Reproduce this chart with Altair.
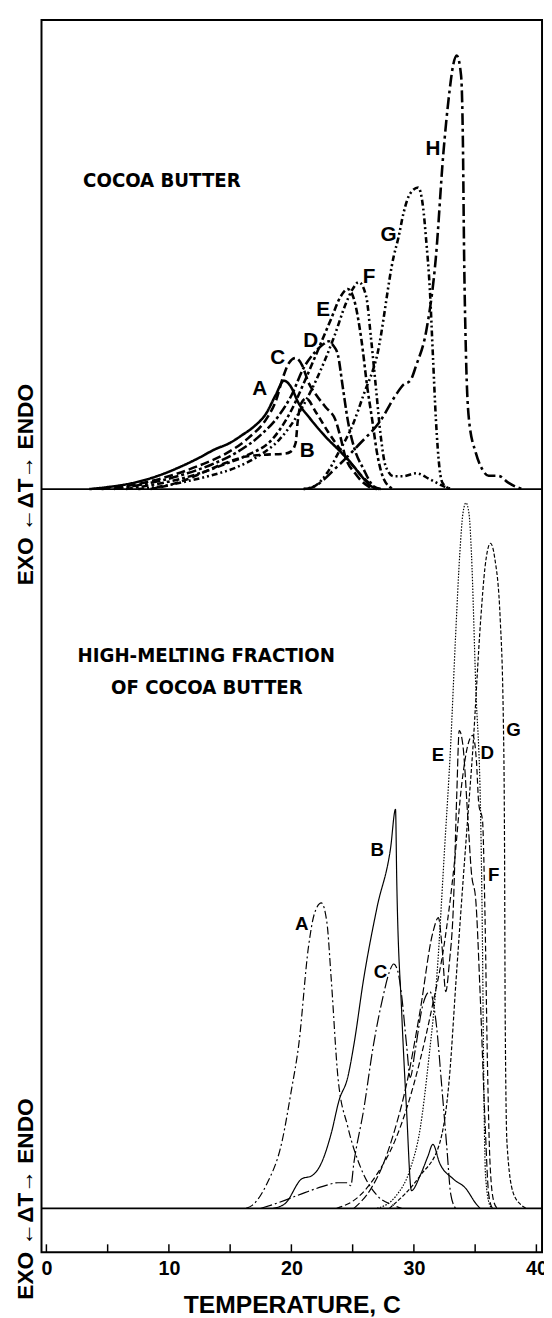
import altair as alt
import pandas as pd

# ---------------- axis extents (temperature, C ; signal height, arbitrary units) ----
T_MIN, T_MAX = -0.4, 40.46
Y_MIN, Y_MAX = -44.5, 1206.0
TOP_BASE = 730.0          # where the upper panel's baseline sits on the shared scale

tick_values = [0, 5, 10, 15, 20, 25, 30, 35, 40]
label_values = [0, 10, 20, 30, 40]

# ---------------- upper panel: cocoa butter -----------------------------------------
top_A_T = [3.5, 5.0, 7.0, 9.0, 11.0, 12.5, 13.7, 15.0, 16.0, 16.9, 17.95, 18.7, 19.4, 19.9, 20.6, 21.5, 22.8, 24.0, 24.9, 25.8, 26.5, 27.2]
top_A_h = [0, 2, 6, 13, 23, 32, 40, 47, 55, 63, 77, 95, 110, 105, 87, 72, 53, 38, 26, 12, 3, 0]

top_B_T = [8.5, 10.0, 11.5, 13.0, 14.5, 16.3, 18.0, 19.5, 19.95, 20.35, 20.5, 20.8, 21.2, 22.0, 23.0, 24.0, 25.0, 26.0, 26.9]
top_B_h = [0, 4, 10, 18, 26, 33, 35, 36, 38, 47, 67, 87, 92, 78, 58, 40, 24, 10, 0]

top_C_T = [4.5, 6.5, 8.5, 10.5, 12.5, 14.5, 16.5, 18.0, 18.75, 19.3, 19.8, 20.35, 20.9, 21.4, 22.0, 22.8, 23.6, 24.0, 24.4, 25.2, 26.25, 27.0]
top_C_h = [0, 3, 8, 15, 24, 35, 52, 72, 90, 113, 128, 133, 125, 108, 96, 83, 70, 53, 33, 16, 3, 0]

top_D_T = [5.5, 7.5, 9.5, 11.5, 13.5, 15.5, 17.5, 19.0, 20.0, 21.0, 22.0, 22.6, 23.05, 23.4, 23.8, 24.2, 24.6, 25.1, 25.9, 26.7, 27.3]
top_D_h = [0, 4, 9, 16, 25, 37, 55, 75, 95, 123, 140, 147, 150, 146, 136, 103, 70, 43, 20, 3, 0]

top_E_T = [6.5, 8.5, 10.5, 12.5, 14.5, 16.5, 18.4, 20.0, 21.1, 22.2, 23.25, 24.0, 24.6, 25.1, 25.7, 26.2, 26.6, 27.0, 27.55, 28.3]
top_E_h = [0, 4, 9, 16, 25, 35, 50, 80, 110, 142, 173, 195, 203, 193, 153, 103, 70, 36, 10, 0]

top_F_T = [7.5, 9.5, 11.5, 13.5, 15.5, 17.5, 19.0, 20.5, 22.0, 23.5, 24.5, 25.0, 25.5, 26.1, 26.5, 26.9, 27.3, 27.7, 28.35, 29.1, 30.2, 31.3, 32.4, 33.1]
top_F_h = [0, 3, 8, 14, 22, 35, 50, 75, 110, 155, 190, 203, 210, 196, 153, 103, 53, 23, 13, 13, 16, 10, 3, 0]

top_G_T = [21.0, 21.9, 23.0, 23.8, 25.0, 25.9, 27.0, 28.35, 28.75, 29.15, 29.7, 30.35, 30.75, 31.0, 31.3, 31.55, 31.8, 32.1, 32.35, 33.0]
top_G_h = [0, 3, 18, 36, 65, 96, 136, 236, 256, 280, 300, 306, 286, 253, 203, 136, 70, 20, 6, 0]

top_H_T = [21.0, 21.65, 23.8, 25.5, 27.3, 28.5, 29.15, 29.7, 30.2, 31.0, 31.8, 32.4, 32.9, 33.2, 33.5, 33.85, 34.0, 34.1, 34.25, 34.5, 35.05, 35.5, 36.1, 36.9, 37.7, 38.5, 38.9]
top_H_h = [0, 1.5, 23.5, 45, 70, 95, 106, 110, 126, 160, 236, 340, 403, 430, 440, 420, 353, 237, 137, 70, 37, 22, 13.5, 13.5, 6.5, 1.5, 0]

# ---------------- lower panel: high-melting fraction --------------------------------
bot_A_T = [16.3, 16.8, 18.0, 19.2, 20.0, 20.6, 21.4, 21.9, 22.45, 22.9, 23.25, 23.8, 24.6, 25.7, 27.0, 28.35, 29.0]
bot_A_h = [0, 3, 25, 66, 120, 166, 266, 300, 310, 290, 233, 133, 83, 40, 13, 3, 0]

bot_B_T = [18.5, 19.5, 20.85, 21.65, 22.45, 23.25, 23.9, 24.6, 25.1, 25.9, 27.0, 28.1, 28.5, 28.6, 29.0, 29.4, 29.8, 30.5, 31.15, 31.55, 32.1, 33.2, 34.25, 35.05, 35.4]
bot_B_h = [0, 5, 30, 33, 46, 76, 110, 133, 166, 233, 306, 366, 405, 333, 200, 100, 18, 33, 53, 65, 46, 30, 20, 5, 0]

bot_C_T = [17.5, 19.0, 21.1, 22.5, 23.8, 24.5, 24.85, 25.1, 25.9, 26.7, 27.5, 28.0, 28.35, 28.7, 29.0, 29.4, 29.7, 30.1, 30.7, 31.3, 31.8, 32.3, 32.7, 33.0, 33.4]
bot_C_h = [0, 6, 16, 22, 26, 26, 23, 46, 100, 166, 216, 240, 248, 240, 216, 166, 133, 160, 205, 220, 190, 120, 60, 15, 0]

bot_D_T = [23.7, 25.5, 27.0, 28.5, 29.5, 30.5, 31.5, 32.5, 33.3, 33.9, 34.4, 34.8, 35.1, 35.3, 35.6, 35.8, 36.0, 36.2, 36.5, 36.8]
bot_D_h = [0, 12, 35, 70, 105, 150, 205, 270, 350, 430, 470, 480, 455, 410, 394, 300, 150, 50, 8, 0]

bot_E_T = [25.1, 26.5, 27.5, 28.35, 29.4, 30.5, 31.55, 32.0, 32.3, 32.6, 32.9, 33.2, 33.5, 33.7, 34.0, 34.4, 34.7, 35.05, 35.4, 35.8, 36.1, 36.4]
bot_E_h = [0, 20, 45, 76, 126, 200, 280, 295, 265, 220, 250, 300, 420, 485, 470, 397, 340, 313, 220, 90, 15, 0]

bot_F_T = [27.0, 28.5, 29.7, 30.5, 31.2, 31.9, 32.5, 33.0, 33.4, 33.75, 34.0, 34.25, 34.5, 34.7, 35.05, 35.45, 35.6, 35.7, 35.85, 36.2, 36.4]
bot_F_h = [0, 12, 40, 80, 150, 240, 364, 470, 580, 665, 705, 716, 705, 664, 530, 397, 266, 133, 33, 3, 0]

bot_G_T = [28.0, 30.5, 32.1, 32.9, 33.45, 34.0, 34.4, 34.8, 35.45, 35.8, 36.25, 36.6, 37.05, 37.3, 37.4, 37.45, 37.6, 38.1, 38.8, 39.2]
bot_G_h = [0, 33, 66, 133, 233, 330, 397, 464, 597, 650, 675, 660, 597, 497, 366, 200, 66, 16, 3, 0]

# ---------------- curve letters ------------------------------------------------------
top_label_names = ["H", "G", "F", "E", "D", "C", "A", "B"]
top_label_T = [31.56, 27.94, 26.33, 22.59, 21.57, 18.89, 17.41, 21.30]
top_label_h = [344.8, 258.2, 214.8, 181.5, 149.8, 133.2, 101.5, 38.2]

bot_label_names = ["E", "D", "G", "B", "F", "A", "C"]
bot_label_T = [31.96, 35.98, 38.13, 27.01, 36.52, 20.84, 27.28]
bot_label_h = [460.5, 462.2, 485.5, 363.8, 338.2, 288.2, 239.8]

# ---------------- line styles --------------------------------------------------------
top_dashes = {"A": [1, 0], "B": [7, 4], "C": [9, 4], "D": [10, 3, 3, 3], "E": [7, 3, 3, 3],
              "F": [6, 3, 2, 3, 2, 3], "G": [2, 3, 2, 3, 6, 3], "H": [12, 4, 3, 4]}
bot_dashes = {"A": [8, 3, 2, 3], "B": [1, 0], "C": [12, 3, 2, 3], "D": [6, 3], "E": [8, 3],
              "F": [1.5, 1.5], "G": [4, 2]}

top_curves = {"A": (top_A_T, top_A_h), "B": (top_B_T, top_B_h), "C": (top_C_T, top_C_h),
              "D": (top_D_T, top_D_h), "E": (top_E_T, top_E_h), "F": (top_F_T, top_F_h),
              "G": (top_G_T, top_G_h), "H": (top_H_T, top_H_h)}
bot_curves = {"A": (bot_A_T, bot_A_h), "B": (bot_B_T, bot_B_h), "C": (bot_C_T, bot_C_h),
              "D": (bot_D_T, bot_D_h), "E": (bot_E_T, bot_E_h), "F": (bot_F_T, bot_F_h),
              "G": (bot_G_T, bot_G_h)}

rows = []
keys, dashes = [], []
for panel, curves, dd in (("top", top_curves, top_dashes), ("bottom", bot_curves, bot_dashes)):
    for name, (ts, hs) in curves.items():
        key = panel + "_" + name
        keys.append(key)
        dashes.append(dd[name])
        for i, (t, h) in enumerate(zip(ts, hs)):
            rows.append({"panel": panel, "key": key, "seq": i, "T": t, "h": h})
df = pd.DataFrame(rows)

lab_rows = []
for n, t, h in zip(top_label_names, top_label_T, top_label_h):
    lab_rows.append({"panel": "top", "name": n, "T": t, "h": h})
for n, t, h in zip(bot_label_names, bot_label_T, bot_label_h):
    lab_rows.append({"panel": "bottom", "name": n, "T": t, "h": h})
lab_df = pd.DataFrame(lab_rows)

tick_df = pd.DataFrame({"T": tick_values, "y0": [Y_MIN] * len(tick_values), "y1": [Y_MIN + 8] * len(tick_values)})
base_df = pd.DataFrame({"T": [T_MIN, T_MIN], "x1": [T_MAX, T_MAX], "yb": [0.0, TOP_BASE]})

shift = f"datum.h + (datum.panel == 'top' ? {TOP_BASE} : 0)"

FONT = "Liberation Sans"
COND = "DejaVu Sans Condensed, Liberation Sans"

x_scale = alt.Scale(domain=[T_MIN, T_MAX], nice=False, zero=False)
y_scale = alt.Scale(domain=[Y_MIN, Y_MAX], nice=False, zero=False)

x_axis = alt.Axis(values=label_values, format="d", ticks=False, tickSize=0, domain=False, grid=False,
                  labelFont=FONT, labelFontSize=20, labelFontWeight="bold", labelColor="black",
                  labelPadding=7, labelFlush=False,
                  title="TEMPERATURE, C", titleFont=FONT, titleFontSize=25, titleFontWeight="bold",
                  titleColor="black", titlePadding=14)


def X():
    return alt.X("T:Q", scale=x_scale, axis=x_axis)


def Y(field):
    return alt.Y(field, scale=y_scale, axis=None)


lines = alt.Chart(df).transform_calculate(y=shift).mark_line(interpolate="monotone", color="black").encode(
    x=X(),
    y=Y("y:Q"),
    detail="key:N",
    order="seq:Q",
    strokeDash=alt.StrokeDash("key:N", scale=alt.Scale(domain=keys, range=dashes), legend=None),
    strokeWidth=alt.StrokeWidth("panel:N", scale=alt.Scale(domain=["top", "bottom"], range=[2.6, 1.2]), legend=None),
)

ticks = alt.Chart(tick_df).mark_rule(color="black", strokeWidth=1.5).encode(
    x=X(), y=Y("y0:Q"), y2="y1:Q",
)

baselines = alt.Chart(base_df).mark_rule(color="black", strokeWidth=1.6).encode(
    x=X(), x2="x1:Q", y=Y("yb:Q"),
)

top_letters = alt.Chart(lab_df).transform_filter("datum.panel == 'top'").transform_calculate(y=shift).mark_text(
    font=FONT, fontWeight="bold", fontSize=21, color="black", baseline="middle", align="center"
).encode(x=X(), y=Y("y:Q"), text="name:N")

bot_letters = alt.Chart(lab_df).transform_filter("datum.panel == 'bottom'").transform_calculate(y=shift).mark_text(
    font=FONT, fontWeight="bold", fontSize=19, color="black", baseline="middle", align="center"
).encode(x=X(), y=Y("y:Q"), text="name:N")

titles = alt.Chart(pd.DataFrame({"T": [9.43, 13.05, 13.1], "y": [1043.0, 560.5, 528.5],
                                 "t": ["COCOA BUTTER", "HIGH-MELTING FRACTION", "OF COCOA BUTTER"]})).mark_text(
    font=COND, fontWeight="bold", fontSize=20.5, color="black", align="center", baseline="middle"
).encode(x=X(), y=Y("y:Q"), text="t:N")

ytitle = alt.Chart(pd.DataFrame({"T": [-1.69, -1.69], "y": [734.5, 9.5],
                                 "t": ["EXO ←ΔT→ ENDO", "EXO ←ΔT→ ENDO"]})).mark_text(
    font=FONT, fontWeight="bold", fontSize=23, color="black", angle=270, align="center", baseline="middle"
).encode(x=X(), y=Y("y:Q"), text="t:N")

chart = alt.layer(lines, baselines, ticks, top_letters, bot_letters, titles, ytitle).properties(
    width=508,
    height=1250.5,
    autosize=alt.AutoSizeParams(type="none"),
    padding={"left": 34, "top": 2.5, "right": 2, "bottom": 56},
).configure_view(stroke="black", strokeWidth=2)

chart.save("out.html", embed_options={"renderer": "svg", "actions": False})
